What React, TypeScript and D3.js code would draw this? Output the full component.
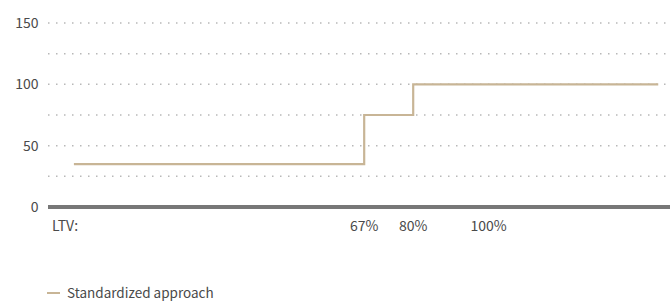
import React from "react";
import * as d3 from "d3";

const ltvSteps = [-10, 67, 80, 145];
const riskWeights = [35, 75, 100, 100];
const yTicks = [0, 50, 100, 150];
const gridValues = [25, 50, 75, 100, 125, 150];
const xTickValues = [67, 80, 100];
const xTickLabels = ["67%", "80%", "100%"];
const seriesName = "Standardized approach";

const W = 670;
const H = 302;

export default function App() {
  const x = d3.scaleLinear().domain([0, 100]).range([111.6, 488.6]);
  const y = d3.scaleLinear().domain([0, 150]).range([207, 23]);
  const data = ltvSteps.map((l, i) => ({ l, v: riskWeights[i] }));
  const line = d3
    .line<{ l: number; v: number }>()
    .x((d) => x(d.l))
    .y((d) => y(d.v))
    .curve(d3.curveStepAfter);
  const font = "'Noto Sans CJK KR', 'Noto Sans', sans-serif";
  const gridX0 = 48;
  const gridX1 = W;
  return (
    <svg
      width={W}
      height={H}
      style={{ position: "absolute", left: 0, top: 0, background: "#fff" }}
      fontFamily={font}
    >
      {gridValues.map((g) => (
        <line
          key={g}
          x1={gridX0}
          x2={gridX1}
          y1={y(g)}
          y2={y(g)}
          stroke="#b8b8b8"
          strokeWidth={1.5}
          strokeDasharray="1.5 6.5"
        />
      ))}
      {yTicks.map((t) => (
        <text
          key={t}
          x={38.5}
          y={y(t)}
          dy="0.36em"
          textAnchor="end"
          fontSize={14}
          fill="#4a4a4a"
        >
          {t}
        </text>
      ))}
      <line x1={gridX0} x2={gridX1} y1={y(0)} y2={y(0)} stroke="#777" strokeWidth={4} />
      <path d={line(data) || ""} fill="none" stroke="#c8b596" strokeWidth={2.2} />
      <text x={52} y={231} fontSize={14} fill="#4a4a4a">
        LTV:
      </text>
      {xTickValues.map((v, i) => (
        <text key={v} x={x(v)} y={231} textAnchor="middle" fontSize={14} fill="#4a4a4a">
          {xTickLabels[i]}
        </text>
      ))}
      <line x1={47} x2={60} y1={293} y2={293} stroke="#c8b596" strokeWidth={2} />
      <text x={67} y={293} dy="0.36em" fontSize={13.5} fill="#4a4a4a">
        {seriesName}
      </text>
    </svg>
  );
}
